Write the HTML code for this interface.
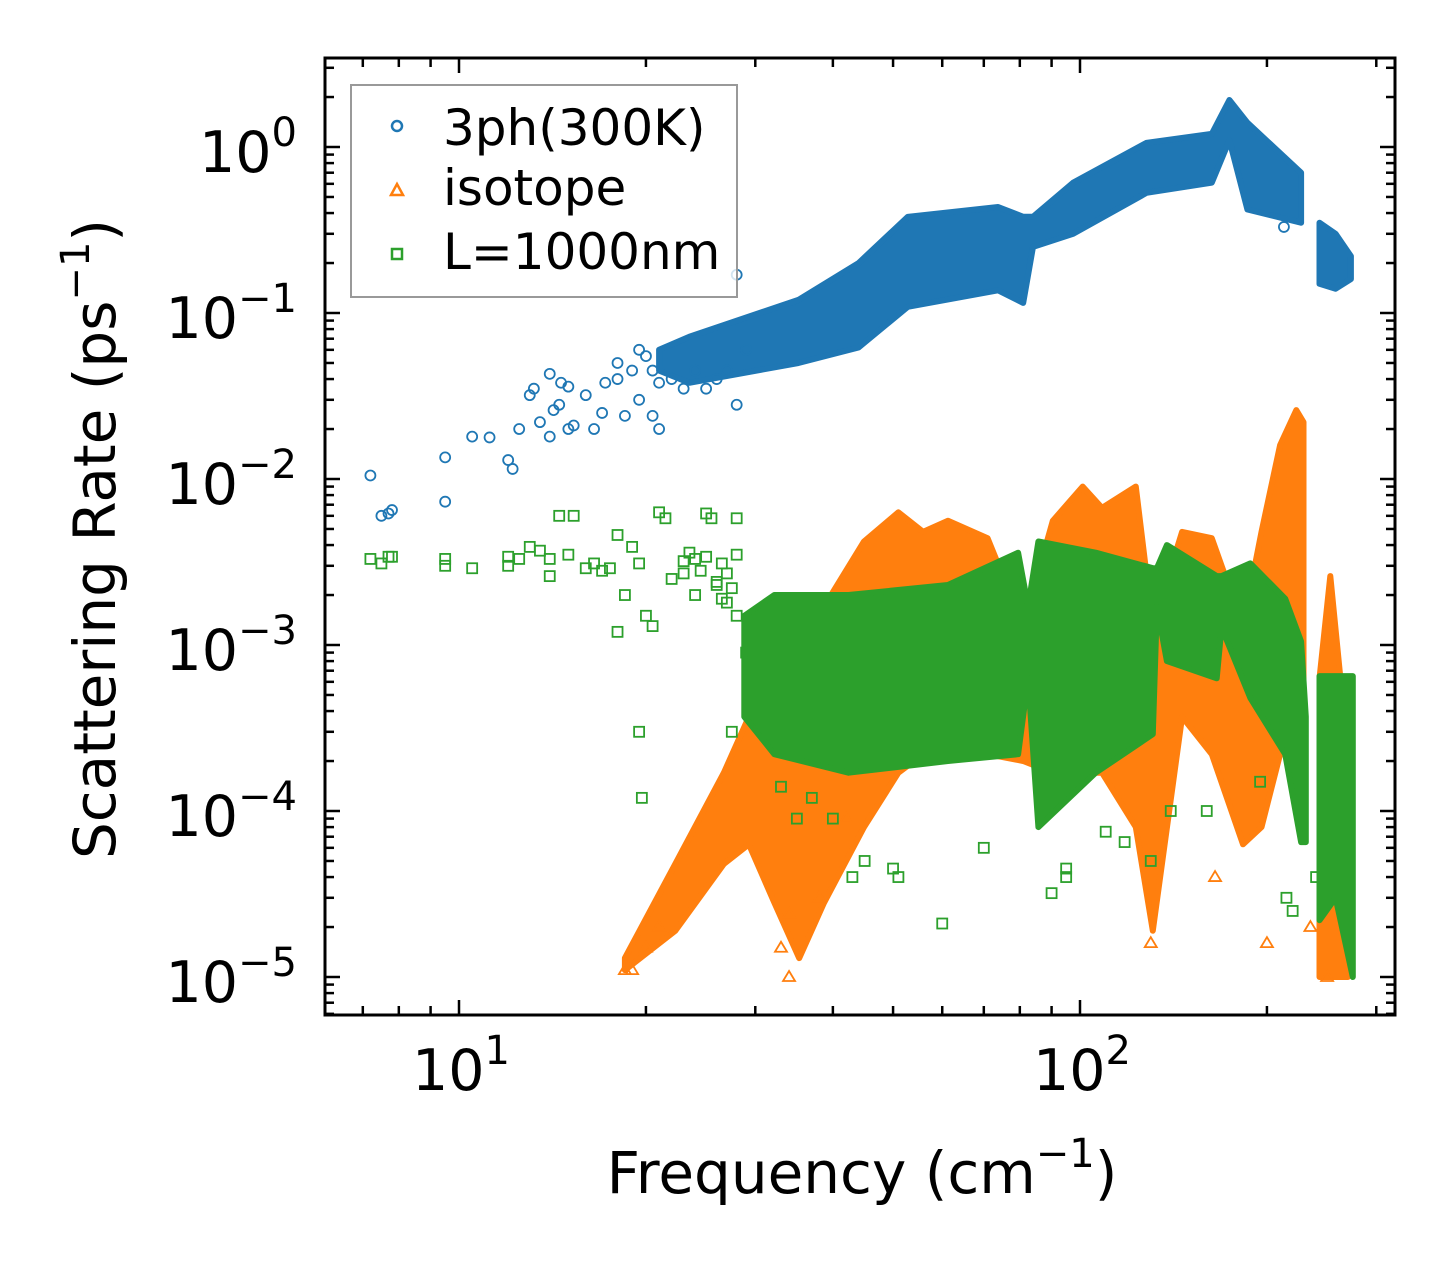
<!DOCTYPE html>
<html><head><meta charset="utf-8"><style>
body{margin:0;background:#fff}
svg text{font-family:"DejaVu Sans","Liberation Sans",sans-serif;fill:#000}
</style></head><body>
<svg id="chart" width="1455" height="1265" viewBox="0 0 1455 1265" xmlns="http://www.w3.org/2000/svg">
<g id="bands"></g>
<g id="pts"></g>
<g id="axes"></g>
<g id="legend">
<rect x="351" y="85" width="386" height="212" fill="#fff" fill-opacity="0.8" stroke="#999" stroke-width="2"/>
<circle cx="397" cy="126" r="5" fill="none" stroke="#1f77b4" stroke-width="2.5"/>
<text x="443" y="145" font-size="50">3ph(300K)</text>
<path d="M397,184 L403,195 L391,195 Z" fill="none" stroke="#ff7f0e" stroke-width="2.5"/>
<text x="443" y="205" font-size="50">isotope</text>
<rect x="392" y="249" width="10" height="10" fill="none" stroke="#2ca02c" stroke-width="2.5"/>
<text x="443" y="269" font-size="50">L=1000nm</text>
</g>
<text x="862" y="1193" font-size="58" text-anchor="middle">Frequency (cm<tspan dy="-26" font-size="40">−1</tspan><tspan dy="26">)</tspan></text>
<text transform="translate(115,539) rotate(-90)" font-size="58" text-anchor="middle">Scattering Rate (ps<tspan dy="-26" font-size="40">−1</tspan><tspan dy="26">)</tspan></text>
</svg>
<script>
// ---- data ----
const blueBandF = [[21,23.5,35.2,44,52.8,73.8,81,84,97.5,128,163,174,186,227],[243,258,273]];
const blueBandLo = [[0.045,0.038,0.05,0.062,0.109,0.137,0.115,0.25,0.30,0.53,0.61,1.1,0.42,0.35],[0.15,0.14,0.16]];
const blueBandHi = [[0.06,0.072,0.12,0.2,0.38,0.435,0.38,0.38,0.61,1.06,1.2,1.92,1.4,0.70],[0.35,0.3,0.22]];
const orangeBandF = [[18.5,22.3,26.7,29.3,32.2,35.3,38.7,44.9,51,55.9,61.3,71,81,90.4,101,108.5,123,131,146,163,183,196,210,223,229],[243,253,270]];
const orangeBandLo = [[1.1e-5,1.9e-5,4.8e-5,6.3e-5,2.8e-5,1.3e-5,2.8e-5,8e-5,1.7e-4,2.2e-4,2.2e-4,2.2e-4,2e-4,1.7e-4,1.7e-4,1.7e-4,8e-5,1.9e-5,3.7e-4,2.2e-4,6.3e-5,8e-5,2.2e-4,6.3e-4,8e-5],[1e-5,1e-5,1e-5]];
const orangeBandHi = [[1.3e-5,4.8e-5,1.7e-4,3.7e-4,6.3e-4,1.3e-3,1.7e-3,4.2e-3,6.3e-3,4.8e-3,5.6e-3,4.4e-3,1.3e-3,5.6e-3,9e-3,6.7e-3,9e-3,1.3e-3,4.8e-3,4.4e-3,1.3e-3,4.8e-3,1.6e-2,2.6e-2,2.2e-2],[6.3e-4,2.6e-3,2.2e-4]];
const greenBandF = [[28.8,32.2,42.4,61.3,79.5,82.5,85.7,106,131,133,138,166,169,188,214,227,231],[243,258,275]];
const greenBandLo = [[3.7e-4,2.2e-4,1.7e-4,2e-4,2.2e-4,6.3e-4,8e-5,1.7e-4,2.9e-4,1.7e-3,8e-4,6.3e-4,1.28e-3,4.8e-4,2.2e-4,6.5e-5,6.5e-5],[2.2e-5,3e-5,1e-5]];
const greenBandHi = [[1.5e-3,2e-3,2e-3,2.3e-3,3.6e-3,1.7e-3,4.2e-3,3.6e-3,2.9e-3,2.9e-3,4e-3,2.6e-3,2.6e-3,3.1e-3,1.9e-3,1.05e-3,3.7e-4],[6.5e-4,6.5e-4,6.5e-4]];
const blueF = [7.2,7.5,7.7,7.8,9.5,9.5,10.5,11.2,12,12.2,12.5,13,13.2,13.5,14,14,14.2,14.5,14.6,15,15,15.3,16,16.5,17,17.2,18,18,18.5,19,19.5,19.5,20,20.5,20.5,21,21,22,23,24,25,26,27,28,28,29,213];
const blueV = [0.0105,0.006,0.0062,0.0065,0.0135,0.0073,0.018,0.0178,0.013,0.0115,0.02,0.032,0.035,0.022,0.043,0.018,0.026,0.028,0.038,0.036,0.02,0.021,0.032,0.02,0.025,0.038,0.04,0.05,0.024,0.045,0.06,0.03,0.055,0.045,0.024,0.038,0.02,0.04,0.035,0.045,0.035,0.04,0.045,0.028,0.17,0.06,0.33];
const greenF = [7.2,7.5,7.7,7.8,9.5,9.5,10.5,12,12,12.5,13,13.5,14,14,14.5,15,15.3,16,16.5,17,17.5,18,18,18.5,19,19.5,19.5,19.7,20,20.5,21,21.5,22,23,24,25,25.5,26,27,27.5,28,29,30,33,35,37,40,43,45,50,51,60,70,90,95,95,110,118,130,140,160,195,215,220,240,23.5,24.5,25,26,26.5,27,27.5,28,28,23,24,26.5];
const greenV = [0.0033,0.0031,0.0034,0.0034,0.0033,0.003,0.0029,0.003,0.0034,0.0033,0.0039,0.0037,0.0026,0.0033,0.006,0.0035,0.006,0.0029,0.0031,0.0028,0.0029,0.0012,0.0046,0.002,0.0039,0.0031,0.0003,0.00012,0.0015,0.0013,0.0063,0.0058,0.0025,0.0032,0.002,0.0062,0.0058,0.0023,0.0018,0.0003,0.0058,0.0009,0.0006,0.00014,0.00009,0.00012,0.00009,0.00004,0.00005,0.000045,0.00004,0.000021,0.00006,0.000032,0.00004,0.000045,0.000075,0.000065,0.00005,0.0001,0.0001,0.00015,0.00003,0.000025,0.00004,0.0036,0.0028,0.0034,0.0024,0.0031,0.0027,0.0022,0.0035,0.0015,0.0027,0.0033,0.0019];
const orangeF = [18.5,19,20,21,33,34,34,38,42,130,165,200,235,250];
const orangeV = [1.1e-5,1.1e-5,1.5e-5,2e-5,1.5e-5,1e-5,2.4e-5,3e-5,9e-5,1.6e-5,4e-5,1.6e-5,2e-5,1e-5];
const xTickVals = [10,100];
const xTickExp = ["1","2"];
const yTickVals = [1,0.1,0.01,0.001,0.0001,0.00001];
const yTickExp = ["0","−1","−2","−3","−4","−5"];
// ---- scales ----
const L=325,R=1395,T=58,B=1015;
const X=f=>459+621*(Math.log10(f)-1);
const Y=v=>147-166*Math.log10(v);
const NS="http://www.w3.org/2000/svg";
function mk(tag,parent){const e=document.createElementNS(NS,tag);parent.appendChild(e);return e;}
const bands=document.getElementById('bands'),pts=document.getElementById('pts'),axes=document.getElementById('axes');
function band(F,Lo,Hi,col,name){
  for(let s=0;s<F.length;s++){
    let d='';
    for(let i=0;i<F[s].length;i++) d+=(i?'L':'M')+X(F[s][i]).toFixed(1)+','+Y(Hi[s][i]).toFixed(1);
    for(let i=F[s].length-1;i>=0;i--) d+='L'+X(F[s][i]).toFixed(1)+','+Y(Lo[s][i]).toFixed(1);
    const p=mk('path',bands);
    
    
    p.setAttribute('d',d+'Z');p.setAttribute('fill',col);
    p.setAttribute('stroke',col);p.setAttribute('stroke-width','6');p.setAttribute('stroke-linejoin','round');
  }
}
band(blueBandF,blueBandLo,blueBandHi,'#1f77b4','3ph-dense-cloud');
band(orangeBandF,orangeBandLo,orangeBandHi,'#ff7f0e','isotope-dense-cloud');
band(greenBandF,greenBandLo,greenBandHi,'#2ca02c','boundary-dense-cloud');
blueF.forEach((f,i)=>{const c=mk('circle',pts);
  
  
  c.setAttribute('cx',X(f));c.setAttribute('cy',Y(blueV[i]));c.setAttribute('r',5);c.setAttribute('fill','none');c.setAttribute('stroke','#1f77b4');c.setAttribute('stroke-width','1.8');});
orangeF.forEach((f,i)=>{const x=X(f),y=Y(orangeV[i]);const p=mk('path',pts);
  
  
  p.setAttribute('d',`M${x},${y-6}L${x+6},${y+4}L${x-6},${y+4}Z`);p.setAttribute('fill','none');p.setAttribute('stroke','#ff7f0e');p.setAttribute('stroke-width','1.8');});
greenF.forEach((f,i)=>{const r=mk('rect',pts);
  
  
  r.setAttribute('x',X(f)-5);r.setAttribute('y',Y(greenV[i])-5);r.setAttribute('width',10);r.setAttribute('height',10);r.setAttribute('fill','none');r.setAttribute('stroke','#2ca02c');r.setAttribute('stroke-width','1.8');});
// ---- axes ----
function line(x1,y1,x2,y2,w){const l=mk('line',axes);l.setAttribute('x1',x1);l.setAttribute('y1',y1);l.setAttribute('x2',x2);l.setAttribute('y2',y2);l.setAttribute('stroke','#000');l.setAttribute('stroke-width',w);return l;}
for(let d=0;d<=2;d++)for(let m=1;m<=9;m++){const f=m*Math.pow(10,d);const x=X(f);if(x<L||x>R)continue;const len=m===1?15:9;
  const t1=line(x,B,x,B-len,2.5);
  const t2=line(x,T,x,T+len,2.5);}
for(let d=-6;d<=0;d++)for(let m=1;m<=9;m++){const v=m*Math.pow(10,d);const y=Y(v);if(y<T||y>B)continue;const len=m===1?15:9;
  const t1=line(L,y,L+len,y,2.5);
  const t2=line(R,y,R-len,y,2.5);}
const fr=mk('rect',axes);
fr.setAttribute('x',L);fr.setAttribute('y',T);fr.setAttribute('width',R-L);fr.setAttribute('height',B-T);fr.setAttribute('fill','none');fr.setAttribute('stroke','#000');fr.setAttribute('stroke-width','3');
xTickVals.forEach((v,i)=>{const t=mk('text',axes);
  
  
  t.setAttribute('x',X(v)+2);t.setAttribute('y',1090);t.setAttribute('font-size','57');t.setAttribute('text-anchor','middle');
  t.innerHTML='10<tspan dy="-26" font-size="40">'+xTickExp[i]+'</tspan>';});
yTickVals.forEach((v,i)=>{const t=mk('text',axes);
  
  
  t.setAttribute('x',297);t.setAttribute('y',Y(v)+25);t.setAttribute('font-size','57');t.setAttribute('text-anchor','end');
  t.innerHTML='10<tspan dy="-26" font-size="40">'+yTickExp[i]+'</tspan>';});
</script>
</body></html>
